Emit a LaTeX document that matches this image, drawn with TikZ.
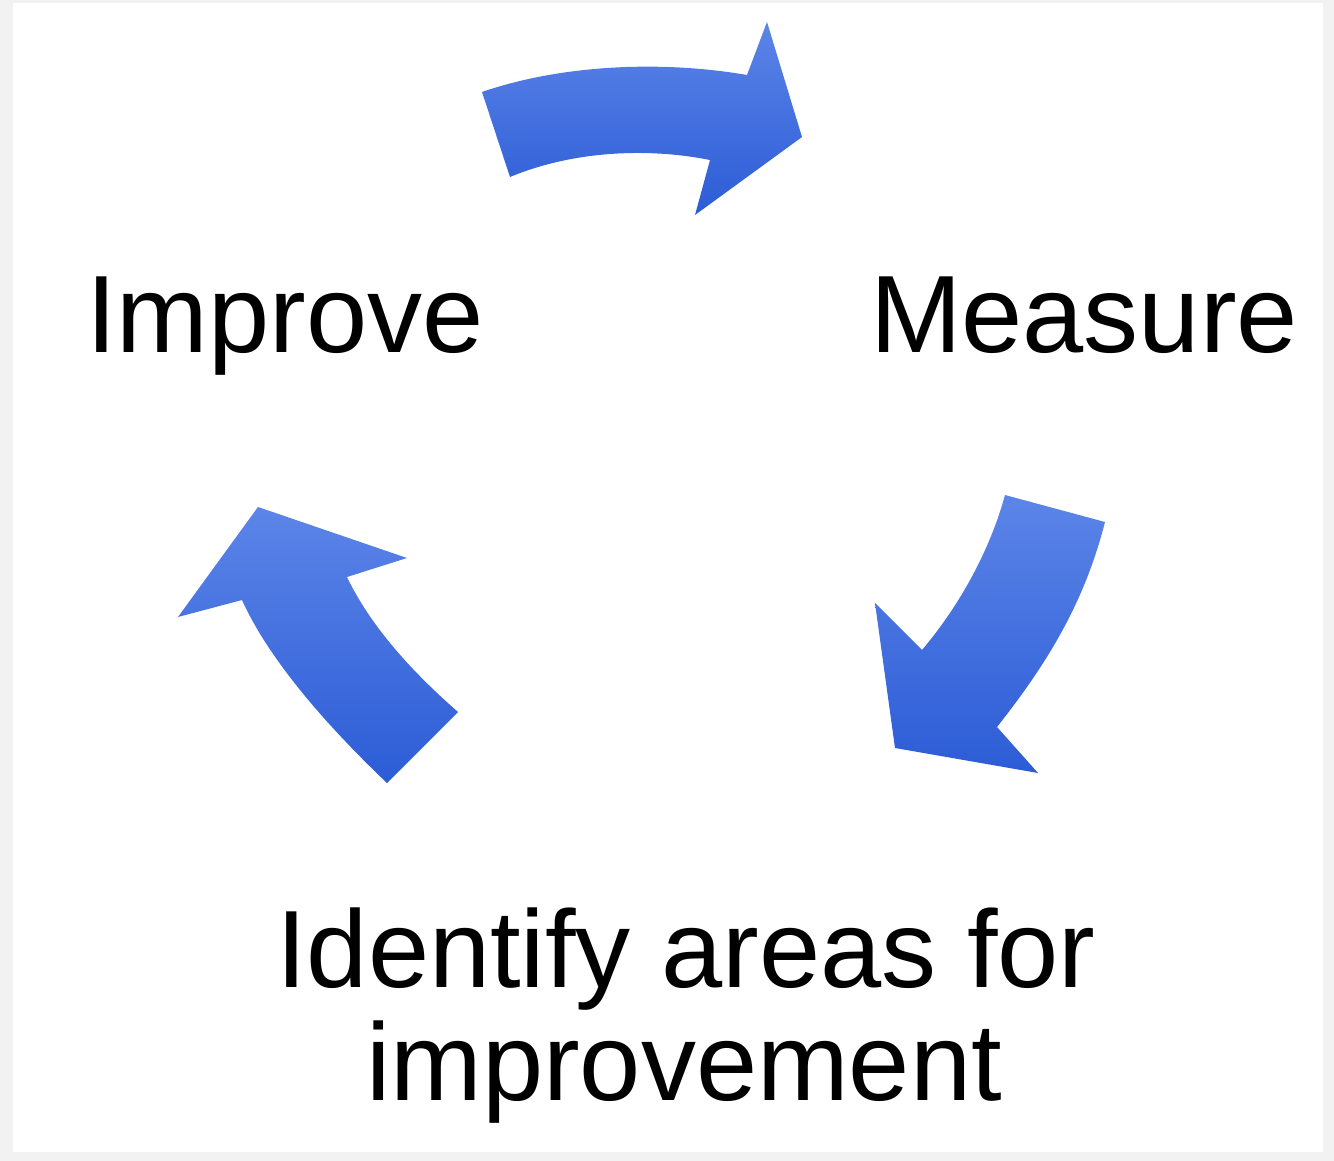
\documentclass[tikz,border=0pt]{standalone}
\usepackage{fontspec}
\setmainfont{Liberation Sans}
\definecolor{pagegray}{HTML}{F2F2F2}
\definecolor{arrtop}{RGB}{92,133,232}
\definecolor{arrbot}{RGB}{44,92,214}
\tikzset{
  cyclearrow/.style={top color=arrtop, bottom color=arrbot, draw=none},
  biglabel/.style={font=\fontsize{110}{113}\selectfont, text=black, inner sep=0pt, anchor=base}
}
\begin{document}
\begin{tikzpicture}[x=1pt,y=-1pt]
\useasboundingbox (0,0) rectangle (1334,1161);
\fill[pagegray] (0,0) rectangle (1334,1161);
\fill[white] (12.5,3) rectangle (1323,1152);
% top arrow (Improve -> Measure)
\shade[cyclearrow] (482,92) -- (510,177) .. controls (575,150) and (650,148) .. (710,160)
  -- (695,215) -- (802,137) -- (767,22) -- (747,75)
  .. controls (660,60) and (560,65) .. (482,92) -- cycle;
% right arrow (Measure -> Identify)
\shade[cyclearrow] (1005,495) -- (1105,522) .. controls (1085,600) and (1050,660) .. (997,727)
  -- (1038,773) -- (895,748) -- (875,603) -- (922,650)
  .. controls (960,605) and (990,550) .. (1005,495) -- cycle;
% left arrow (Identify -> Improve)
\shade[cyclearrow] (387,783) -- (458,712) .. controls (410,670) and (370,625) .. (347,577)
  -- (407,558) -- (258,507) -- (178,617) -- (242,600)
  .. controls (260,640) and (300,700) .. (387,783) -- cycle;
\node[biglabel] (improve) at (285,352) {Improve};
\node[biglabel] (measure) at (1084,352) {Measure};
\node[biglabel] (identify1) at (686,987) {Identify areas for};
\node[biglabel] (identify2) at (684,1100) {improvement};
\end{tikzpicture}
\end{document}
